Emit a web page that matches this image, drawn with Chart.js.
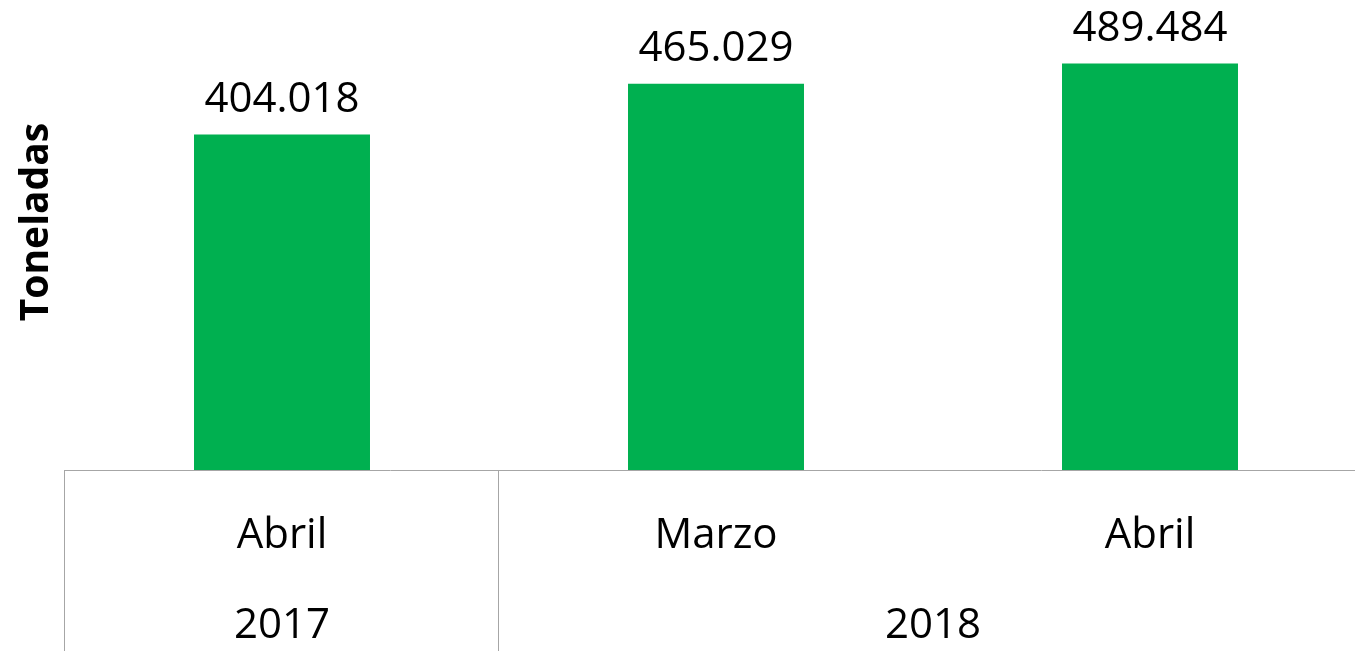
<!DOCTYPE html>
<html>
<head>
<meta charset="utf-8">
<script src="https://cdn.jsdelivr.net/npm/chart.js@4"></script>
<style>
  html, body { margin: 0; padding: 0; background: #fff; overflow: hidden; }
  #wrap { width: 1368px; height: 651px; position: relative; }
</style>
</head>
<body>
<div id="wrap"><canvas id="barChart"></canvas></div>
<script>
const months = ['Abril', 'Marzo', 'Abril'];
const years = ['2017', '2018'];
const yearSpans = [1, 2]; // how many months each year covers
const tonnes = [404.018, 465.029, 489.484];
const valueLabels = ['404.018', '465.029', '489.484'];

const FONT = '"Open Sans", "Liberation Sans", sans-serif';
const lineColor = '#a6a6a6';

// labels on top of the bars
const barLabels = {
    id: 'barLabels',
    afterDatasetsDraw(chart) {
        const ctx = chart.ctx;
        const meta = chart.getDatasetMeta(0);
        ctx.save();
        ctx.font = '42px ' + FONT;
        ctx.fillStyle = '#000';
        ctx.textAlign = 'center';
        ctx.textBaseline = 'alphabetic';
        meta.data.forEach((bar, i) => {
            ctx.fillText(valueLabels[i], bar.x, bar.y - 23);
        });
        ctx.restore();
    }
};

// table-like category axis with months and years, plus the y title
const tableAxis = {
    id: 'tableAxis',
    afterDraw(chart) {
        const ctx = chart.ctx;
        const area = chart.chartArea;
        const x = chart.scales.x;
        const half = (x.getPixelForValue(1) - x.getPixelForValue(0)) / 2;
        const bottom = chart.height;

        ctx.save();
        ctx.strokeStyle = lineColor;
        ctx.lineWidth = 1;
        ctx.beginPath();
        ctx.moveTo(area.left, Math.round(area.bottom) + 0.5);
        ctx.lineTo(area.right, Math.round(area.bottom) + 0.5);
        // year separators
        let idx = 0;
        const edges = [x.getPixelForValue(0) - half];
        yearSpans.forEach(span => {
            idx += span;
            edges.push(x.getPixelForValue(idx - 1) + half);
        });
        edges.forEach(px => {
            ctx.moveTo(Math.round(px) - 0.5, area.bottom);
            ctx.lineTo(Math.round(px) - 0.5, bottom);
        });
        ctx.stroke();

        ctx.fillStyle = '#000';
        ctx.font = '42px ' + FONT;
        ctx.textAlign = 'center';
        ctx.textBaseline = 'alphabetic';
        months.forEach((m, i) => {
            ctx.fillText(m, x.getPixelForValue(i), 548);
        });
        years.forEach((y, i) => {
            ctx.fillText(y, (edges[i] + edges[i + 1]) / 2, 638);
        });

        // y axis title
        ctx.translate(37, 222);
        ctx.rotate(-Math.PI / 2);
        ctx.font = 'bold 39px ' + FONT;
        ctx.textBaseline = 'middle';
        ctx.fillText('Toneladas', 0, 0);
        ctx.restore();
    }
};

new Chart(document.getElementById('barChart'), {
    type: 'bar',
    data: {
        labels: months,
        datasets: [{
            data: tonnes,
            backgroundColor: '#00b050',
            borderWidth: 0,
            barPercentage: 0.4055,
            categoryPercentage: 1,
        }],
    },
    options: {
        responsive: true,
        maintainAspectRatio: false,
        animation: false,
        layout: {
            padding: { left: 65, right: 1, top: 0, bottom: 181 },
        },
        plugins: {
            legend: { display: false },
            tooltip: { enabled: false },
        },
        scales: {
            x: { display: false },
            y: { display: false, min: 0, max: 566 },
        },
    },
    plugins: [barLabels, tableAxis],
});
</script>
</body>
</html>
